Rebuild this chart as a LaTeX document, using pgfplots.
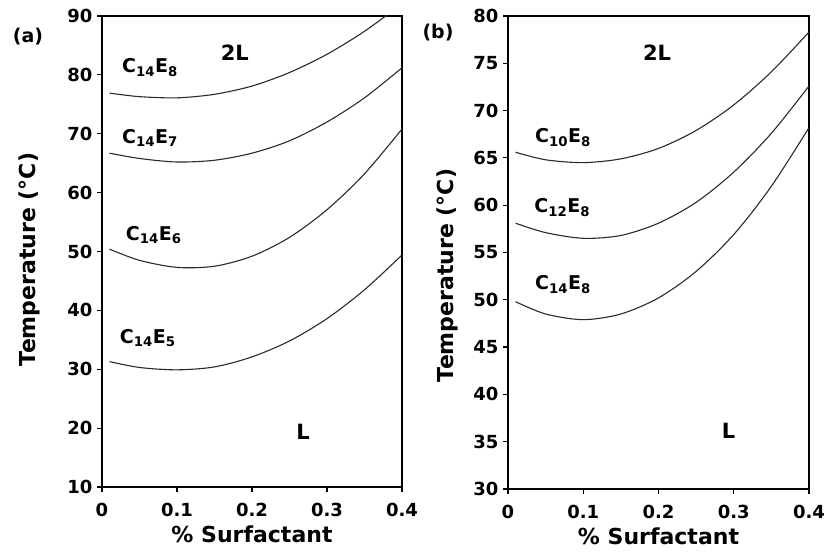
\documentclass[border=0pt]{standalone}
\usepackage{pgfplots}
\pgfplotsset{compat=1.18}
\usepackage{fontspec}
\setmainfont{DejaVu Sans}
\definecolor{curve}{HTML}{2A2A2A}

\newcommand{\tickfont}{\fontsize{18}{20}\selectfont\bfseries}
\newcommand{\labfont}{\fontsize{22}{25}\selectfont\bfseries}
\newcommand{\regfont}{\fontsize{21}{24}\selectfont\bfseries}
\newcommand{\curvefont}{\fontsize{19}{22}\selectfont\bfseries}

\pgfplotsset{
  panel/.style={
    scale only axis,
    anchor=south west,
    xmin=0, xmax=0.4,
    xtick={0,0.1,0.2,0.3,0.4},
    xticklabels={0,0.1,0.2,0.3,0.4},
    tick align=outside,
    xtick pos=left, ytick pos=left,
    major tick length=5pt,
    axis line style={line width=1.6pt},
    every tick/.style={line width=1.2pt, black},
    tick label style={font=\tickfont},
    yticklabel style={xshift=-1pt},
    xticklabel style={yshift=-8pt},
    /pgf/number format/assume math mode=true,
    xlabel={\% Surfactant},
    ylabel={Temperature (°C)},
    label style={font=\labfont},
    xlabel style={yshift=-2pt},
    every axis plot post/.append style={color=curve, line width=1.1pt, smooth, mark=none},
    clip=true,
  },
}

\begin{document}
\begin{tikzpicture}
  \path[use as bounding box] (0pt,0pt) rectangle (825pt,557pt);

  % panel (a)
  \begin{axis}[panel, at={(102pt,70pt)}, width=300pt, height=471pt,
      ymin=10, ymax=90, ytick={10,20,...,90},
      ylabel style={yshift=20pt, xshift=-8pt}]
    \addplot coordinates {(0.01,76.9) (0.05,76.3) (0.1,76.1) (0.15,76.7) (0.2,78.1) (0.25,80.4) (0.3,83.5) (0.35,87.4) (0.4,92.1)};
    \addplot coordinates {(0.01,66.7) (0.05,65.8) (0.1,65.2) (0.15,65.5) (0.2,66.7) (0.25,68.8) (0.3,72.0) (0.35,76.1) (0.4,81.2)};
    \addplot coordinates {(0.01,50.4) (0.05,48.5) (0.1,47.3) (0.15,47.5) (0.2,49.2) (0.25,52.4) (0.3,57.1) (0.35,63.2) (0.4,70.8)};
    \addplot coordinates {(0.01,31.3) (0.05,30.3) (0.1,29.9) (0.15,30.4) (0.2,32.1) (0.25,34.8) (0.3,38.6) (0.35,43.5) (0.4,49.4)};
    \node[font=\curvefont] at (axis cs:0.064,81.2) {C\textsubscript{14}E\textsubscript{8}};
    \node[font=\curvefont] at (axis cs:0.064,69.3) {C\textsubscript{14}E\textsubscript{7}};
    \node[font=\curvefont] at (axis cs:0.069,52.8) {C\textsubscript{14}E\textsubscript{6}};
    \node[font=\curvefont] at (axis cs:0.061,35.3) {C\textsubscript{14}E\textsubscript{5}};
    \node[font=\regfont] at (axis cs:0.177,83.7) {2L};
    \node[font=\regfont] at (axis cs:0.268,19.4) {L};
  \end{axis}
  \node[font=\fontsize{19}{22}\selectfont\bfseries] at (28pt,520pt) {(a)};

  % panel (b)
  \begin{axis}[panel, at={(508pt,68pt)}, width=301pt, height=473pt,
      ymin=30, ymax=80, ytick={30,35,...,80},
      ylabel style={yshift=8pt, xshift=-23pt}]
    \addplot coordinates {(0.01,65.6) (0.05,64.8) (0.1,64.5) (0.15,64.9) (0.2,66.0) (0.25,67.9) (0.3,70.6) (0.35,74.1) (0.4,78.3)};
    \addplot coordinates {(0.01,58.1) (0.05,57.1) (0.1,56.5) (0.15,56.8) (0.2,58.1) (0.25,60.3) (0.3,63.5) (0.35,67.6) (0.4,72.6)};
    \addplot coordinates {(0.01,49.8) (0.05,48.5) (0.1,47.9) (0.15,48.5) (0.2,50.2) (0.25,53.0) (0.3,56.9) (0.35,62.0) (0.4,68.2)};
    \node[font=\curvefont] at (axis cs:0.073,67.2) {C\textsubscript{10}E\textsubscript{8}};
    \node[font=\curvefont] at (axis cs:0.072,59.8) {C\textsubscript{12}E\textsubscript{8}};
    \node[font=\curvefont] at (axis cs:0.073,51.6) {C\textsubscript{14}E\textsubscript{8}};
    \node[font=\regfont] at (axis cs:0.198,76.1) {2L};
    \node[font=\regfont] at (axis cs:0.293,36.2) {L};
  \end{axis}
  \node[font=\fontsize{19}{22}\selectfont\bfseries] at (438pt,524pt) {(b)};
\end{tikzpicture}
\end{document}
